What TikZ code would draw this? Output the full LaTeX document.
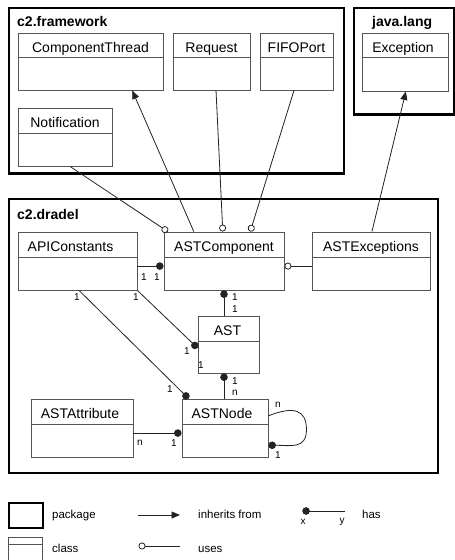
\documentclass[tikz,border=0pt]{standalone}
\usepackage{fontspec}
\setmainfont{Liberation Sans}
\usetikzlibrary{arrows.meta,calc}
\definecolor{clsgray}{RGB}{85,85,85}
\definecolor{conngray}{RGB}{35,35,35}
\newcommand{\umlcls}[8]{%
  \node[classbox, minimum width={#4-#2}, minimum height={#5-#3}] (#1) at ({(#2+#4)/2},{(#3+#5)/2}) {};
  \draw[clsline] ($(#1.north west)+(0,{#6-#3})$) -- ($(#1.north east)+(0,{#6-#3})$);
  \node[clstext] (#1-t) at ({(#2+#4)/2+#7},{#3+19.5}) {#8};}
\begin{document}
\begin{tikzpicture}[x=1pt,y=-1pt,
  pkg/.style={draw=black, line width=2.2pt, inner sep=0pt},
  classbox/.style={draw=clsgray, line width=0.9pt, inner sep=0pt, fill=white},
  clsline/.style={draw=clsgray, line width=0.9pt},
  clstext/.style={font=\fontsize{14}{16}\selectfont, anchor=base, inner sep=0pt},
  conn/.style={draw=conngray, line width=0.8pt},
  uses/.style={conn, -{Circle[open, length=7pt, fill=white, line width=0.8pt]}},
  has/.style={conn, -{Circle[length=7.5pt]}},
  inherits/.style={conn, -{Triangle[length=8.5pt, width=7pt]}},
  mult/.style={font=\fontsize{10}{12}\selectfont, inner sep=0pt},
  pkgtext/.style={font=\bfseries\fontsize{14}{16}\selectfont, anchor=base west, inner sep=0pt},
  legtext/.style={font=\fontsize{11.5}{13}\selectfont, anchor=base west, inner sep=0pt}]
\useasboundingbox (0,0) rectangle (455,560);
\clip (0,0) rectangle (455,560);
\fill[white] (0,0) rectangle (455,560);

% packages
\node[pkg, minimum width=335.3, minimum height=165.5] (fw) at (176.35,90.75) {};
\node[pkgtext] (fwt) at (17,26) {c2.framework};
\node[pkg, minimum width=100, minimum height=106.5] (jl) at (404,61.25) {};
\node[pkgtext] (jlt) at (372,26) {java.lang};
\node[pkg, minimum width=429.3, minimum height=273.7] (dr) at (223.35,335.85) {};
\node[pkgtext] (drt) at (17,219) {c2.dradel};

% classes
\umlcls{ct}{18}{33}{163}{90}{58}{0}{ComponentThread}
\umlcls{req}{173}{33}{250}{90}{58}{0}{Request}
\umlcls{fifo}{260}{33}{333}{90}{58}{0}{FIFOPort}
\umlcls{notif}{18}{108}{112}{166}{134}{0}{Notification}
\umlcls{exc}{362}{33}{448}{91}{58}{-2}{Exception}
\umlcls{api}{18}{232}{137}{290}{258}{-7}{APIConstants}
\umlcls{astc}{164}{232}{284}{290}{258}{0}{ASTComponent}
\umlcls{astexc}{312}{232}{430}{290}{258}{0}{ASTExceptions}
\umlcls{ast}{198}{316}{259}{373}{342}{-1}{AST}
\umlcls{attr}{31}{399}{133}{457}{425}{-2}{ASTAttribute}
\umlcls{astn}{182}{399}{268}{457}{425}{-3}{ASTNode}

% connectors
\draw[uses] ($(notif.south west)!0.553!(notif.south east)$) -- ($(astc.north west)!0.035!(astc.north east)$);
\draw[inherits] ($(astc.north west)!0.25!(astc.north east)$) -- ($(ct.south west)!0.786!(ct.south east)$);
\draw[uses] ($(req.south west)!0.558!(req.south east)$) -- ($(astc.north west)!0.49!(astc.north east)$);
\draw[uses] ($(fifo.south west)!0.466!(fifo.south east)$) -- ($(astc.north west)!0.717!(astc.north east)$);
\draw[inherits] ($(astexc.north west)!0.508!(astexc.north east)$) -- ($(exc.south west)!0.51!(exc.south east)$);
\draw[uses] ($(astexc.north west)!0.586!(astexc.south west)$) -- ($(astc.north east)!0.586!(astc.south east)$);
\draw[has] ($(api.north east)!0.586!(api.south east)$) -- ($(astc.north west)!0.586!(astc.south west)$);
\draw[has] (astc.south |- ast.north) -- (astc.south);
\draw[has] (api.south east) -- ($(ast.north west)!0.56!(ast.south west)$);
\draw[has] ($(api.south west)!0.513!(api.south east)$) -- ($(astn.north west)!0.081!(astn.north east)$);
\draw[has] (astc.south |- astn.north) -- (astc.south |- ast.south);
\draw[has] ($(attr.north east)!0.586!(attr.south east)$) -- ($(astn.north west)!0.586!(astn.south west)$);
\draw[has] ($(astn.north east)!0.293!(astn.south east)$) .. controls +(25,-10) and +(0,-20) .. ($(astn.north east)+(38,31)$) .. controls +(0,20) and +(22,0) .. ($(astn.north east)!0.793!(astn.south east)$);

% multiplicities
\node[mult] (m1) at (144,277) {1};
\node[mult] (m2) at (157,277) {1};
\node[mult] (m3) at (136,297) {1};
\node[mult] (m4) at (77,297) {1};
\node[mult] (m5) at (235,297) {1};
\node[mult] (m6) at (235,309) {1};
\node[mult] (m7) at (187,351) {1};
\node[mult] (m8) at (201,365) {1};
\node[mult] (m9) at (170,389) {1};
\node[mult] (m10) at (235,381) {1};
\node[mult] (m11) at (235,393) {n};
\node[mult] (m12) at (140,443) {n};
\node[mult] (m13) at (174,443) {1};
\node[mult] (m14) at (278,405) {n};
\node[mult] (m15) at (278,455) {1};

% legend
\node[pkg, minimum width=34, minimum height=25] (lpkg) at (25.7,515.2) {};
\node[legtext] (lpkgt) at (52,518) {package};
\node[classbox, minimum width=34, minimum height=40] (lcls) at (25.7,557) {};
\draw[clsline] ($(lcls.north west)+(0,8)$) -- ($(lcls.north east)+(0,8)$);
\node[legtext] (lclst) at (52,552) {class};
\coordinate (li1) at (138,515);
\coordinate (li2) at (180,515);
\draw[inherits] (li1) -- (li2);
\node[legtext] (lit) at (198,518) {inherits from};
\coordinate (lu1) at (180,546);
\coordinate (lu2) at (138.5,546);
\draw[uses] (lu1) -- (lu2);
\node[legtext] (lut) at (198,552) {uses};
\coordinate (lh1) at (345,511);
\coordinate (lh2) at (302.3,511);
\draw[has] (lh1) -- (lh2);
\node[mult] (lx) at (303,522) {x};
\node[mult] (ly) at (342,522) {y};
\node[legtext] (lht) at (362,518) {has};
\end{tikzpicture}
\end{document}
